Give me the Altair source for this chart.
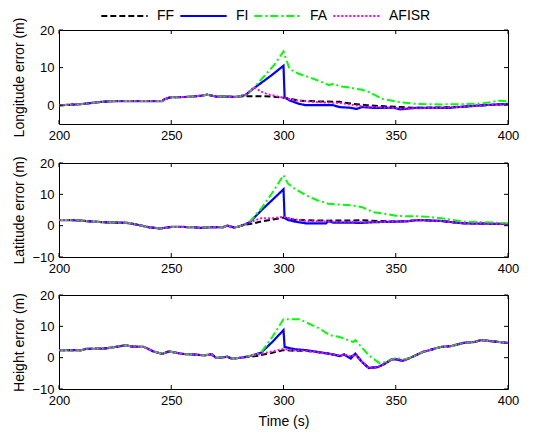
import altair as alt
import pandas as pd

SERIES = ["FF", "FI", "FA", "AFISR"]
COLORS = ["#000000", "#0000ff", "#00ff00", "#ff00ff"]
DASHES = [[6, 3], [1, 0], [8, 3, 2, 3], [2, 2]]
WIDTHS = [2, 2.2, 2, 2]
X_TICKS = [200, 250, 300, 350, 400]

# ---------------- Longitude ----------------
lon_common_t = [200, 205, 210, 213, 219, 225, 235, 246, 247, 249.6, 257, 263, 266, 270, 275, 278, 280]
lon_common_v = [0.0, 0.1, 0.3, 0.5, 0.9, 1.1, 1.1, 1.1, 1.6, 2.1, 2.2, 2.5, 2.8, 2.3, 2.3, 2.2, 2.3]
lon_ff_t = [283, 287, 290, 295, 299, 300, 303, 307, 315, 325, 331, 337, 345, 352, 360, 370, 380, 390, 400]
lon_ff_v = [2.4, 2.4, 2.4, 2.3, 2.1, 2.0, 1.7, 1.2, 1.0, 0.9, 0.35, 0.0, -0.3, -0.5, -0.7, -0.6, -0.4, 0.0, 0.35]
lon_fi_t = [283, 287, 290, 295, 300, 300.5, 303, 307, 310, 322, 325, 330, 332.5, 335, 340, 349, 352, 359, 374, 381, 389, 400]
lon_fi_v = [2.7, 4.6, 5.9, 8.1, 10.5, 2.1, 1.2, 0.35, 0.0, 0.0, -0.5, -0.7, -1.0, -0.5, -0.7, -0.7, -1.1, -0.7, -0.7, -0.35, 0.0, 0.35]
lon_fa_t = [283, 287, 290, 296, 300, 302.7, 307, 311.7, 316, 320, 322, 326, 330, 335, 338, 344, 351.7, 359, 370, 381, 389, 396, 400]
lon_fa_v = [2.7, 4.8, 6.8, 10.8, 14.3, 9.6, 8.3, 7.4, 6.4, 5.4, 5.6, 5.0, 4.6, 4.1, 3.5, 1.7, 0.8, 0.35, 0.2, 0.3, 0.5, 1.2, 1.0]
lon_af_t = [283, 287, 290, 293, 296, 300, 305, 315, 325, 335, 345, 352, 360, 370, 380, 390, 400]
lon_af_v = [2.8, 4.8, 3.6, 2.9, 2.5, 2.0, 1.3, 0.8, 0.6, -0.3, -0.6, -0.9, -0.8, -0.7, -0.4, 0.0, 0.35]

# ---------------- Latitude ----------------
lat_common_t = [200, 205, 210, 215, 220, 230, 235, 240, 245, 250, 255, 260, 263, 268, 273, 275, 278, 280, 282]
lat_common_v = [1.8, 1.8, 1.6, 1.3, 1.1, 0.9, 0.3, -0.5, -0.9, -0.4, -0.4, -0.5, -0.7, -0.5, -0.5, 0.0, -0.6, -0.3, 0.2]
lat_ff_t = [285, 290, 295, 300, 305, 320, 335, 345, 350, 355, 360, 370, 380, 390, 400]
lat_ff_v = [0.5, 1.3, 1.9, 2.6, 1.8, 1.6, 1.7, 1.4, 1.3, 1.4, 1.8, 1.5, 0.75, 0.65, 0.5]
lat_fi_t = [285, 290, 295, 300, 300.5, 302, 305, 310, 319, 320, 322, 335, 340, 350, 355, 360, 370, 380, 390, 400]
lat_fi_v = [1.1, 4.8, 8.2, 11.6, 2.4, 1.8, 1.3, 0.75, 0.75, 1.5, 1.0, 0.9, 1.1, 1.3, 1.4, 1.8, 1.5, 0.75, 0.65, 0.5]
lat_fa_t = [285, 290, 295, 300, 302, 305, 310, 315, 320, 330, 335, 340, 345, 350, 355, 360, 365, 370, 380, 390, 400]
lat_fa_v = [1.3, 5.4, 10.5, 16.1, 13.4, 11.8, 9.7, 8.1, 7.0, 6.5, 5.9, 4.3, 3.8, 3.2, 3.0, 3.0, 2.8, 2.4, 1.3, 1.1, 0.75]
lat_af_t = [285, 290, 295, 300, 305, 310, 320, 335, 340, 350, 355, 360, 370, 380, 390, 400]
lat_af_v = [1.1, 2.4, 2.4, 2.8, 2.0, 1.5, 1.3, 1.2, 1.1, 1.3, 1.4, 1.8, 1.5, 0.75, 0.65, 0.5]

# ---------------- Height ----------------
hgt_common_t = [200, 210, 212, 220, 225, 230, 232, 238, 242, 246, 249, 252, 255, 260, 265, 268, 270, 273, 275, 277, 280, 282]
hgt_common_v = [2.4, 2.4, 2.8, 2.9, 3.4, 4.0, 3.6, 3.4, 2.0, 1.2, 2.0, 1.6, 1.2, 1.0, 0.75, 1.1, -0.1, 0.1, 0.3, -0.3, -0.1, 0.1]
hgt_tail_t = [335, 338, 342, 345, 348, 350, 353, 357, 362, 370, 375, 380, 385, 388, 392, 400]
hgt_tail_v = [-1.4, -3.3, -3.0, -2.0, -0.6, -0.5, -1.0, 0.1, 1.8, 3.4, 3.75, 4.7, 5.0, 5.6, 5.3, 4.7]
hgt_ff_t = [285, 290, 295, 300, 305, 310, 320, 325, 327, 330, 332]
hgt_ff_v = [0.2, 0.8, 1.6, 2.4, 2.2, 2.2, 1.3, 0.7, 1.0, 0.3, 1.0]
hgt_fi_t = [285, 290, 295, 300, 300.5, 305, 310, 320, 325, 327, 330, 332]
hgt_fi_v = [0.5, 1.6, 5.0, 8.8, 3.4, 2.7, 2.4, 1.3, 0.5, 1.0, -0.3, 1.3]
hgt_fa_t = [285, 290, 295, 300, 307, 316, 320.6, 325, 331, 332, 338, 343, 347, 350, 354, 357]
hgt_fa_v = [0.5, 1.6, 6.6, 12.3, 12.3, 9.3, 7.2, 6.6, 5.0, 5.6, 0.75, -1.9, -0.9, -0.1, -0.5, 0.1]
hgt_fa_tail_t = [362, 370, 375, 380, 385, 388, 392, 400]
hgt_fa_tail_v = [1.8, 3.4, 3.75, 4.7, 5.0, 5.6, 5.3, 4.7]
hgt_af_t = [285, 290, 295, 300, 305, 310, 320, 325, 327, 330, 332]
hgt_af_v = [0.5, 1.2, 2.0, 2.8, 2.3, 2.2, 1.3, 0.7, 1.0, 0.3, 1.0]

rows = []


def add(panel, series, ts, vs):
    for t, v in zip(ts, vs):
        rows.append({"panel": panel, "series": series, "t": t, "v": v})


for s, (tt, vv) in zip(SERIES, [(lon_ff_t, lon_ff_v), (lon_fi_t, lon_fi_v), (lon_fa_t, lon_fa_v), (lon_af_t, lon_af_v)]):
    add("lon", s, lon_common_t, lon_common_v)
    add("lon", s, tt, vv)
for s, (tt, vv) in zip(SERIES, [(lat_ff_t, lat_ff_v), (lat_fi_t, lat_fi_v), (lat_fa_t, lat_fa_v), (lat_af_t, lat_af_v)]):
    add("lat", s, lat_common_t, lat_common_v)
    add("lat", s, tt, vv)
for s, (tt, vv) in zip(SERIES, [(hgt_ff_t, hgt_ff_v), (hgt_fi_t, hgt_fi_v), (hgt_fa_t, hgt_fa_v), (hgt_af_t, hgt_af_v)]):
    add("hgt", s, hgt_common_t, hgt_common_v)
    add("hgt", s, tt, vv)
    if s == "FA":
        add("hgt", s, hgt_fa_tail_t, hgt_fa_tail_v)
    else:
        add("hgt", s, hgt_tail_t, hgt_tail_v)

df = pd.DataFrame(rows)

W, H = 449, 94
FONT = "Liberation Sans"

color_scale = alt.Scale(domain=SERIES, range=COLORS)
dash_scale = alt.Scale(domain=SERIES, range=DASHES)
legend = alt.Legend(
    orient="none", legendX=41, legendY=-22, direction="horizontal", title=None,
    symbolType="stroke", symbolSize=2150, symbolStrokeWidth=2, clipHeight=16,
    labelFontSize=14, labelFont=FONT, labelColor="black", labelOffset=8,
    columnPadding=4, columns=4, padding=0,
)


def panel_chart(key, title, ydomain, yticks, xtitle):
    d = df[df.panel == key]
    x = alt.X("t:Q", scale=alt.Scale(domain=[200, 400], nice=False, zero=False),
              axis=alt.Axis(values=X_TICKS, title=xtitle, format="d"))
    y = alt.Y("v:Q", scale=alt.Scale(domain=ydomain, nice=False, zero=False),
              axis=alt.Axis(values=yticks, title=title, format="d"))
    layers = []
    for s, w in zip(SERIES, WIDTHS):
        layers.append(
            alt.Chart(d).transform_filter(alt.datum.series == s)
            .mark_line(strokeWidth=w, clip=True)
            .encode(x=x, y=y,
                    color=alt.Color("series:N", scale=color_scale, legend=legend),
                    strokeDash=alt.StrokeDash("series:N", scale=dash_scale, legend=legend))
        )
    xt = pd.DataFrame({"t": X_TICKS})
    yt = pd.DataFrame({"v": yticks})
    layers.append(alt.Chart(xt).mark_rule(color="black", strokeWidth=1).encode(x=x, y=alt.value(0), y2=alt.value(4)))
    layers.append(alt.Chart(xt).mark_rule(color="black", strokeWidth=1).encode(x=x, y=alt.value(H), y2=alt.value(H - 4)))
    layers.append(alt.Chart(yt).mark_rule(color="black", strokeWidth=1).encode(y=y, x=alt.value(0), x2=alt.value(4)))
    layers.append(alt.Chart(yt).mark_rule(color="black", strokeWidth=1).encode(y=y, x=alt.value(W), x2=alt.value(W - 4)))
    return alt.layer(*layers).properties(width=W, height=H)


p1 = panel_chart("lon", "Longitude error (m)", [-5, 20], [0, 10, 20], None)
p2 = panel_chart("lat", "Latitude error (m)", [-10, 20], [-10, 0, 10, 20], None)
p3 = panel_chart("hgt", "Height error (m)", [-10, 20], [-10, 0, 10, 20], "Time (s)")

chart = alt.vconcat(p1, p2, p3, spacing=12).resolve_scale(color="shared", strokeDash="shared").configure(
    font=FONT, padding={"left": 3, "top": 0, "right": 5, "bottom": 0}
).configure_view(stroke="black", strokeWidth=1).configure_axis(
    domain=False, ticks=False, grid=False, labelFontSize=13, titleFontSize=14,
    labelFont=FONT, titleFont=FONT, labelColor="black", titleColor="black",
    titleFontWeight="normal", labelFlush=False, labelOverlap=False,
).configure_axisX(labelPadding=5, titlePadding=7).configure_axisY(
    labelPadding=5, titlePadding=3, minExtent=30, maxExtent=30,
)

chart.save("out.html", embed_options={"renderer": "svg", "actions": False})
